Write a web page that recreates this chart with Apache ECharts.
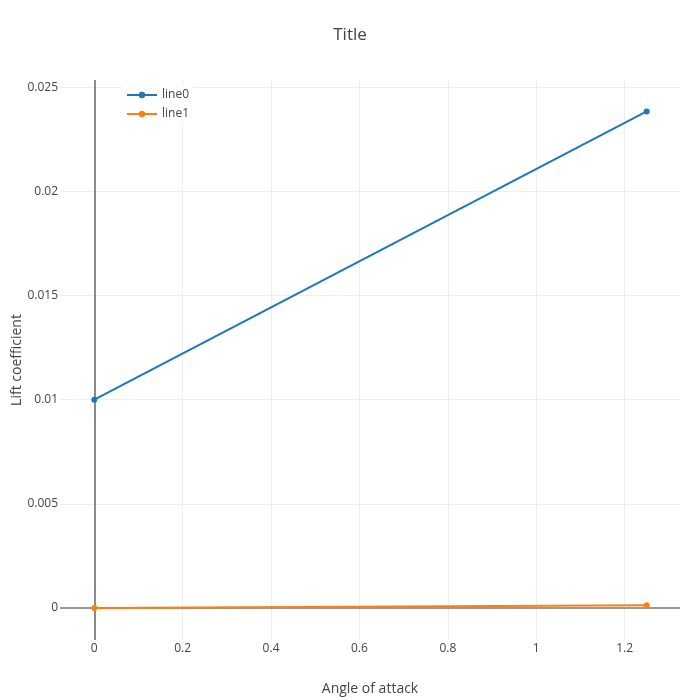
<!DOCTYPE html>
<html>
<head>
<meta charset="utf-8">
<script src="https://cdn.jsdelivr.net/npm/echarts@6/dist/echarts.min.js"></script>
<style>html,body{margin:0;padding:0;background:#fff}#c{width:700px;height:700px}</style>
</head>
<body>
<div id="c"></div>
<script>
var seriesNames = ['line0', 'line1'];
var xValues = [0, 1.25];
var line0 = [0.01, 0.02384];
var line1 = [0, 0.00013];
var colors = ['#1f77b4', '#ff7f0e'];

var font = '"Open Sans", "Noto Sans", sans-serif';
var chart = echarts.init(document.getElementById('c'), null, {renderer: 'canvas'});

function pairs(xs, ys) { return xs.map(function (x, i) { return [x, ys[i]]; }); }

var option = {
  animation: false,
  backgroundColor: '#fff',
  textStyle: {fontFamily: font, color: '#444'},
  title: {
    text: 'Title', left: 'center', top: 22,
    textStyle: {fontFamily: font, fontSize: 17, fontWeight: 'normal', color: '#444'}
  },
  legend: {
    orient: 'vertical', left: 122, top: 86,
    itemWidth: 30, itemHeight: 8, itemGap: 5,
    backgroundColor: '#fff', padding: [2, 4, 2, 4],
    textStyle: {fontFamily: font, fontSize: 12, color: '#444', lineHeight: 14},
    data: seriesNames
  },
  grid: {left: 60, right: 20, top: 80, bottom: 60, containLabel: false, outerBoundsMode: 'none'},
  xAxis: {
    type: 'value', min: -0.0776, max: 1.3254, minInterval: 0.2, maxInterval: 0.2, splitNumber: 7,
    name: 'Angle of attack', nameLocation: 'middle', nameGap: 42,
    nameTextStyle: {fontFamily: font, fontSize: 14, color: '#444'},
    axisLine: {show: false}, axisTick: {show: false},
    axisLabel: {showMinLabel: false, showMaxLabel: false, margin: 3, fontFamily: font, fontSize: 12, color: '#444'},
    splitLine: {show: true, showMinLine: false, showMaxLine: false, lineStyle: {color: '#eee', width: 1}}
  },
  yAxis: {
    type: 'value', min: -0.001536, max: 0.02535, minInterval: 0.005, maxInterval: 0.005, splitNumber: 5,
    name: 'Lift coefficient', nameLocation: 'middle', nameGap: 36, nameMoveOverlap: false,
    nameTextStyle: {fontFamily: font, fontSize: 14, color: '#444'},
    axisLine: {show: false}, axisTick: {show: false},
    axisLabel: {showMinLabel: false, showMaxLabel: false, margin: 2, fontFamily: font, fontSize: 12, color: '#444'},
    splitLine: {show: true, showMinLine: false, showMaxLine: false, lineStyle: {color: '#eee', width: 1}}
  },
  series: [
    {
      name: seriesNames[0], type: 'line', data: pairs(xValues, line0),
      symbol: 'circle', symbolSize: 6, z: 3,
      itemStyle: {color: colors[0]}, lineStyle: {color: colors[0], width: 2},
      markLine: {
        silent: true, symbol: 'none', label: {show: false}, z: 1,
        data: [
          {xAxis: 0, lineStyle: {color: '#666', width: 1.5, type: 'solid'}},
          {yAxis: 0, lineStyle: {color: '#999', width: 2, type: 'solid'}}
        ]
      }
    },
    {
      name: seriesNames[1], type: 'line', data: pairs(xValues, line1),
      symbol: 'circle', symbolSize: 6, z: 3,
      itemStyle: {color: colors[1]}, lineStyle: {color: colors[1], width: 2}
    }
  ]
};
chart.setOption(option);
</script>
</body>
</html>
